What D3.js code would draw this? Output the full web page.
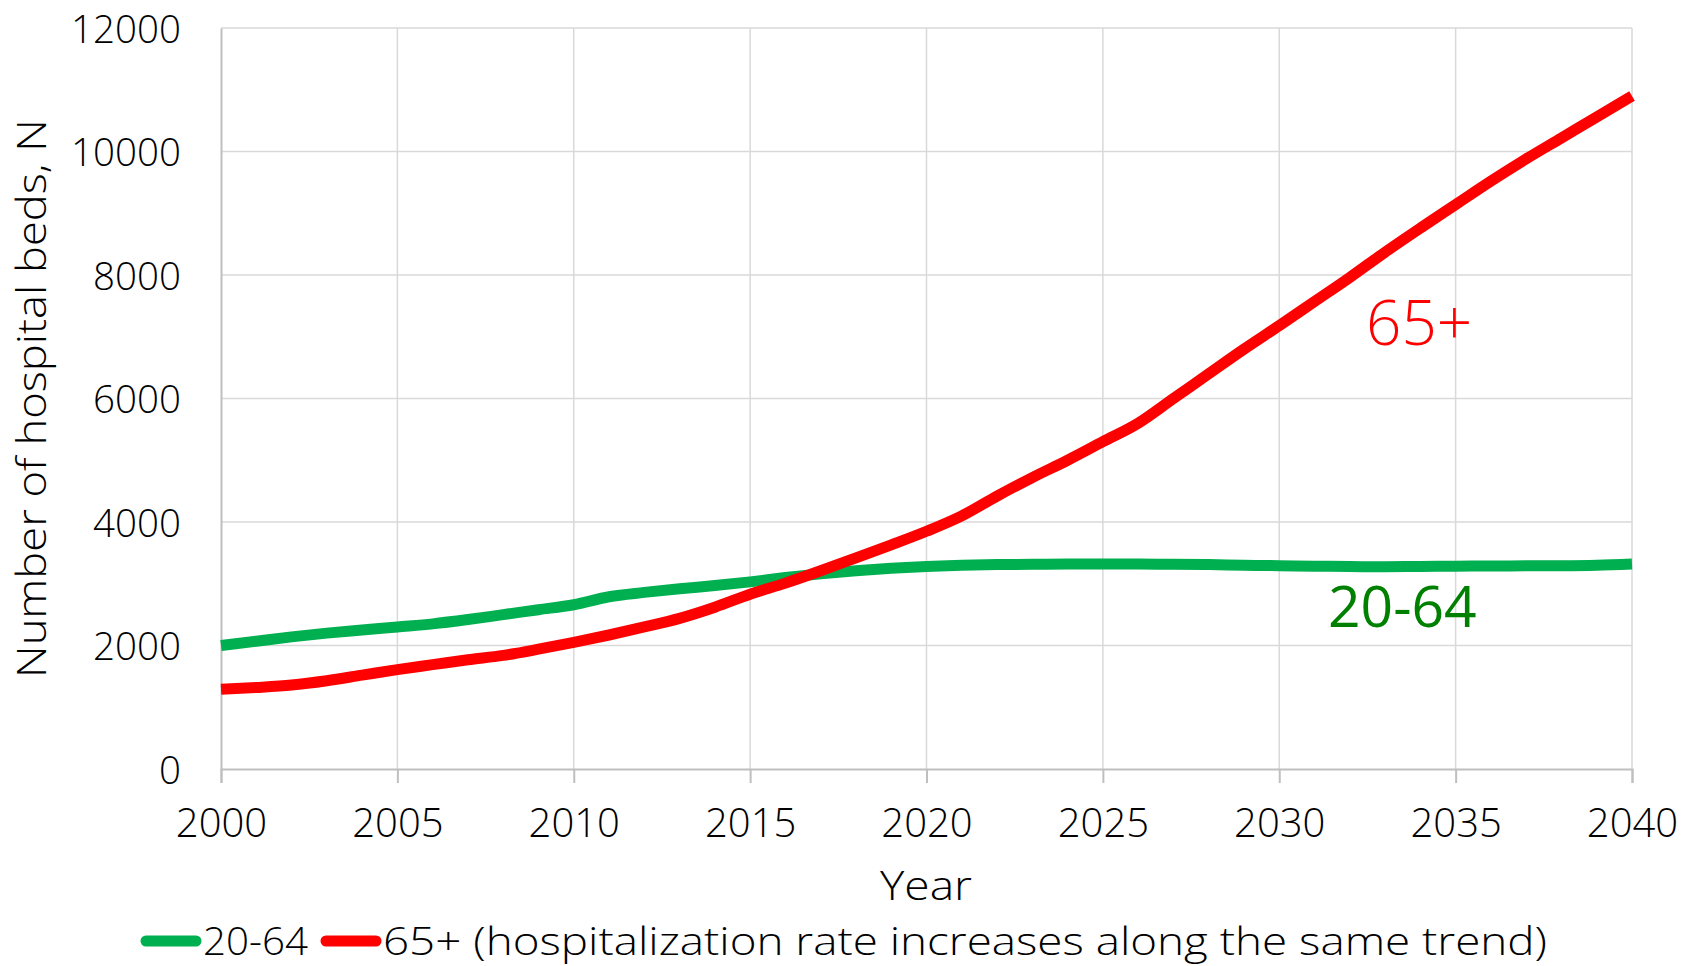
<!DOCTYPE html>
<html>
<head>
<meta charset="utf-8">
<script src="https://cdn.jsdelivr.net/npm/d3@7/dist/d3.min.js"></script>
<style>
  html, body { margin: 0; padding: 0; background: #fff; }
  svg { display: block; }
  text { font-family: "Open Sans", "DejaVu Sans", sans-serif; font-weight: 300; fill: #000; }
</style>
</head>
<body>
<svg id="chart" width="1694" height="966"></svg>
<script>
// Years on the x axis
const years = d3.range(2000, 2041);

// Hospital beds needed, population aged 20-64
const beds2064 = [
  2000, 2070, 2140, 2200, 2250, 2300, 2350, 2420, 2500, 2580,
  2660, 2790, 2860, 2920, 2970, 3030, 3100, 3160, 3210, 3250,
  3280, 3300, 3310, 3315, 3320, 3320, 3318, 3315, 3310, 3300,
  3292, 3285, 3278, 3275, 3280, 3285, 3288, 3290, 3292, 3300,
  3320
];

// Hospital beds needed, population aged 65+ (rate follows the same trend)
const beds65 = [
  1290, 1320, 1360, 1430, 1520, 1610, 1690, 1770, 1840, 1940,
  2050, 2170, 2300, 2440, 2620, 2830, 3010, 3210, 3420, 3630,
  3850, 4100, 4420, 4720, 5000, 5300, 5600, 6000, 6400, 6800,
  7180, 7570, 7960, 8370, 8760, 9140, 9520, 9880, 10220, 10560,
  10900
];

const xTicks = [2000, 2005, 2010, 2015, 2020, 2025, 2030, 2035, 2040];
const yTicks = [0, 2000, 4000, 6000, 8000, 10000, 12000];

const seriesNames = ["20-64", "65+ (hospitalization rate increases along the same trend)"];
const seriesColors = ["#00b050", "#ff0000"];
const labelNames = ["20-64", "65+"];
const labelColors = ["#008000", "#ff0000"];

const svg = d3.select("#chart");
const margin = { left: 221, right: 1632, top: 28, bottom: 769 };

const x = d3.scaleLinear().domain([2000, 2040]).range([margin.left, margin.right]);
const y = d3.scaleLinear().domain([0, 12000]).range([margin.bottom, margin.top]);

// Gridlines
const grid = svg.append("g");
grid.selectAll("line.h").data(yTicks.filter(d => d > 0)).join("line")
  .attr("x1", margin.left).attr("x2", margin.right)
  .attr("y1", d => y(d)).attr("y2", d => y(d))
  .attr("stroke", "#d9d9d9").attr("stroke-width", 1.5);
grid.selectAll("line.v").data(xTicks.filter(d => d > 2000)).join("line")
  .attr("x1", d => x(d)).attr("x2", d => x(d))
  .attr("y1", margin.top).attr("y2", margin.bottom)
  .attr("stroke", "#d9d9d9").attr("stroke-width", 1.5);

// X axis
const xAxis = svg.append("g")
  .attr("transform", `translate(0,${margin.bottom})`)
  .call(d3.axisBottom(x).tickValues(xTicks).tickFormat(d3.format("d")).tickSize(14).tickPadding(26));
xAxis.select(".domain").attr("stroke", "#bfbfbf").attr("stroke-width", 2);
xAxis.selectAll(".tick line").attr("stroke", "#bfbfbf").attr("stroke-width", 2);
xAxis.selectAll(".tick text")
  .style("font-size", "40px").style("font-family", "'Open Sans', sans-serif").attr("fill", "#000");

// Y axis
const yAxis = svg.append("g")
  .attr("transform", `translate(${margin.left},0)`)
  .call(d3.axisLeft(y).tickValues(yTicks).tickFormat(d3.format("d")).tickSize(0).tickPadding(40));
yAxis.select(".domain").attr("stroke", "#bfbfbf").attr("stroke-width", 2);
yAxis.selectAll(".tick text")
  .attr("dy", null).attr("dominant-baseline", "auto")
  .attr("y", 14)
  .style("font-size", "38.5px").style("font-family", "'Open Sans', sans-serif").attr("fill", "#000");

// Axis titles
svg.append("text")
  .attr("x", 926).attr("y", 900)
  .attr("text-anchor", "middle").style("font-size", "40px")
  .attr("textLength", 92).attr("lengthAdjust", "spacingAndGlyphs")
  .text("Year");
svg.append("text")
  .attr("transform", `translate(46,${(margin.top + margin.bottom) / 2}) rotate(-90)`)
  .attr("text-anchor", "middle").style("font-size", "40px")
  .attr("textLength", 559).attr("lengthAdjust", "spacingAndGlyphs")
  .text("Number of hospital beds, N");

// Series lines
const line = d3.line().x((d, i) => x(years[i])).y(d => y(d)).curve(d3.curveMonotoneX);
const series = [beds2064, beds65];
svg.append("g").selectAll("path").data(series).join("path")
  .attr("d", d => line(d))
  .attr("fill", "none")
  .attr("stroke", (d, i) => seriesColors[i])
  .attr("stroke-width", 11)
  .attr("stroke-linejoin", "round");

// In-plot series labels
svg.append("text")
  .attr("x", 1328).attr("y", 627)
  .style("font-size", "57px").style("font-weight", 400)
  .style("fill", labelColors[0])
  .text(labelNames[0]);
svg.append("text")
  .attr("x", 1366).attr("y", 345)
  .style("font-size", "62px").style("font-weight", 300)
  .style("fill", labelColors[1])
  .text(labelNames[1]);

// Legend
const legend = svg.append("g");
const legendItems = [
  { name: seriesNames[0], color: seriesColors[0], x0: 146, len: 105 },
  { name: seriesNames[1], color: seriesColors[1], x0: 326, len: 1164 }
];
legendItems.forEach(it => {
  legend.append("line")
    .attr("x1", it.x0).attr("x2", it.x0 + 50)
    .attr("y1", 941).attr("y2", 941)
    .attr("stroke", it.color).attr("stroke-width", 11).attr("stroke-linecap", "round");
  legend.append("text")
    .attr("x", it.x0 + 57).attr("y", 955)
    .style("font-size", "38px")
    .attr("textLength", it.len).attr("lengthAdjust", "spacingAndGlyphs")
    .text(it.name);
});
</script>
</body>
</html>
